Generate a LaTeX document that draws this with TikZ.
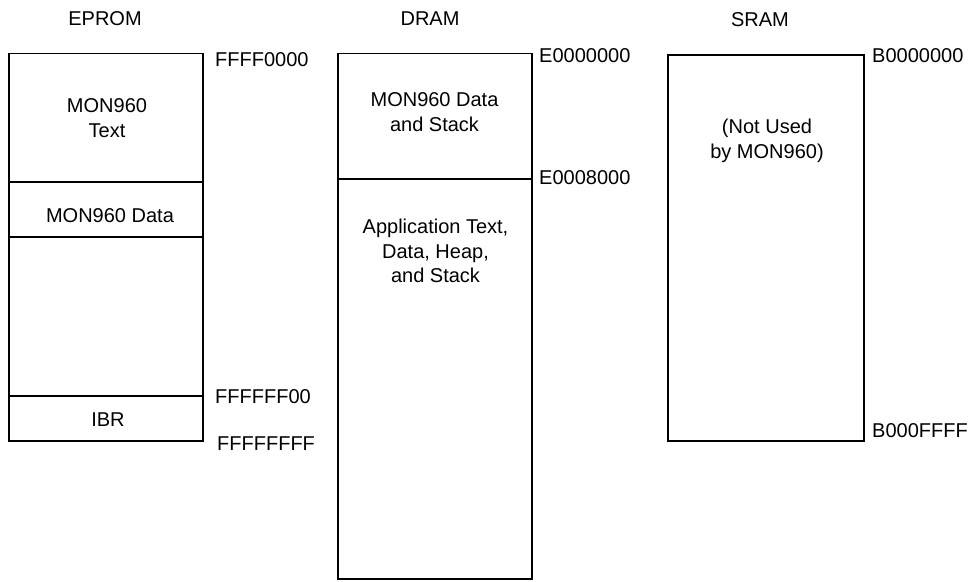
\documentclass[tikz,border=0pt]{standalone}
\usepackage{fontspec}
\setmainfont{Liberation Sans}
\begin{document}
\begin{tikzpicture}[x=1pt,y=-1pt,
  mem/.style={draw=black,line width=1.2pt},
  lbl/.style={font=\fontsize{20}{24.5}\selectfont,inner sep=0pt},
  txt/.style={font=\fontsize{20}{24.5}\selectfont,inner sep=0pt,align=center},
  addr/.style={font=\fontsize{20}{24.5}\selectfont,inner sep=0pt,anchor=base west}]
\useasboundingbox[fill=white] (0,0) rectangle (973,581);
% titles
\node[lbl] (teprom) at (105,19) {EPROM};
\node[lbl] (tdram) at (430,19) {DRAM};
\node[lbl] (tsram) at (760,20) {SRAM};
% EPROM
\coordinate (e1) at (9,53.5);
\coordinate (e2) at (203,441);
\draw[mem] (e1) rectangle (e2);
\draw[mem] (9,182) -- (203,182);
\draw[mem] (9,237) -- (203,237);
\draw[mem] (9,396) -- (203,396);
\node[txt] (montext) at (107,118) {MON960\\Text};
\node[txt] (mondata) at (110,216) {MON960 Data};
\node[txt] (ibr) at (108,420) {IBR};
\node[addr] (a1) at (215,66.2) {FFFF0000};
\node[addr] (a2) at (215,403.2) {FFFFFF00};
\node[addr] (a3) at (217,450.2) {FFFFFFFF};
% DRAM
\coordinate (d1) at (338,53.5);
\coordinate (d2) at (532,579);
\draw[mem] (d1) rectangle (d2);
\draw[mem] (338,179) -- (532,179);
\node[txt] (mondatastack) at (434.5,112) {MON960 Data\\and Stack};
\node[txt] (app) at (435.5,251) {Application Text,\\Data, Heap,\\and Stack};
\node[addr] (a4) at (539,62.2) {E0000000};
\node[addr] (a5) at (539,184.2) {E0008000};
% SRAM
\coordinate (s1) at (668,55);
\coordinate (s2) at (864,441);
\draw[mem] (s1) rectangle (s2);
\node[txt] (notused) at (767,141) {(Not Used\\by MON960)};
\node[addr] (a6) at (872,62.2) {B0000000};
\node[addr] (a7) at (872,437.2) {B000FFFF};
\end{tikzpicture}
\end{document}
